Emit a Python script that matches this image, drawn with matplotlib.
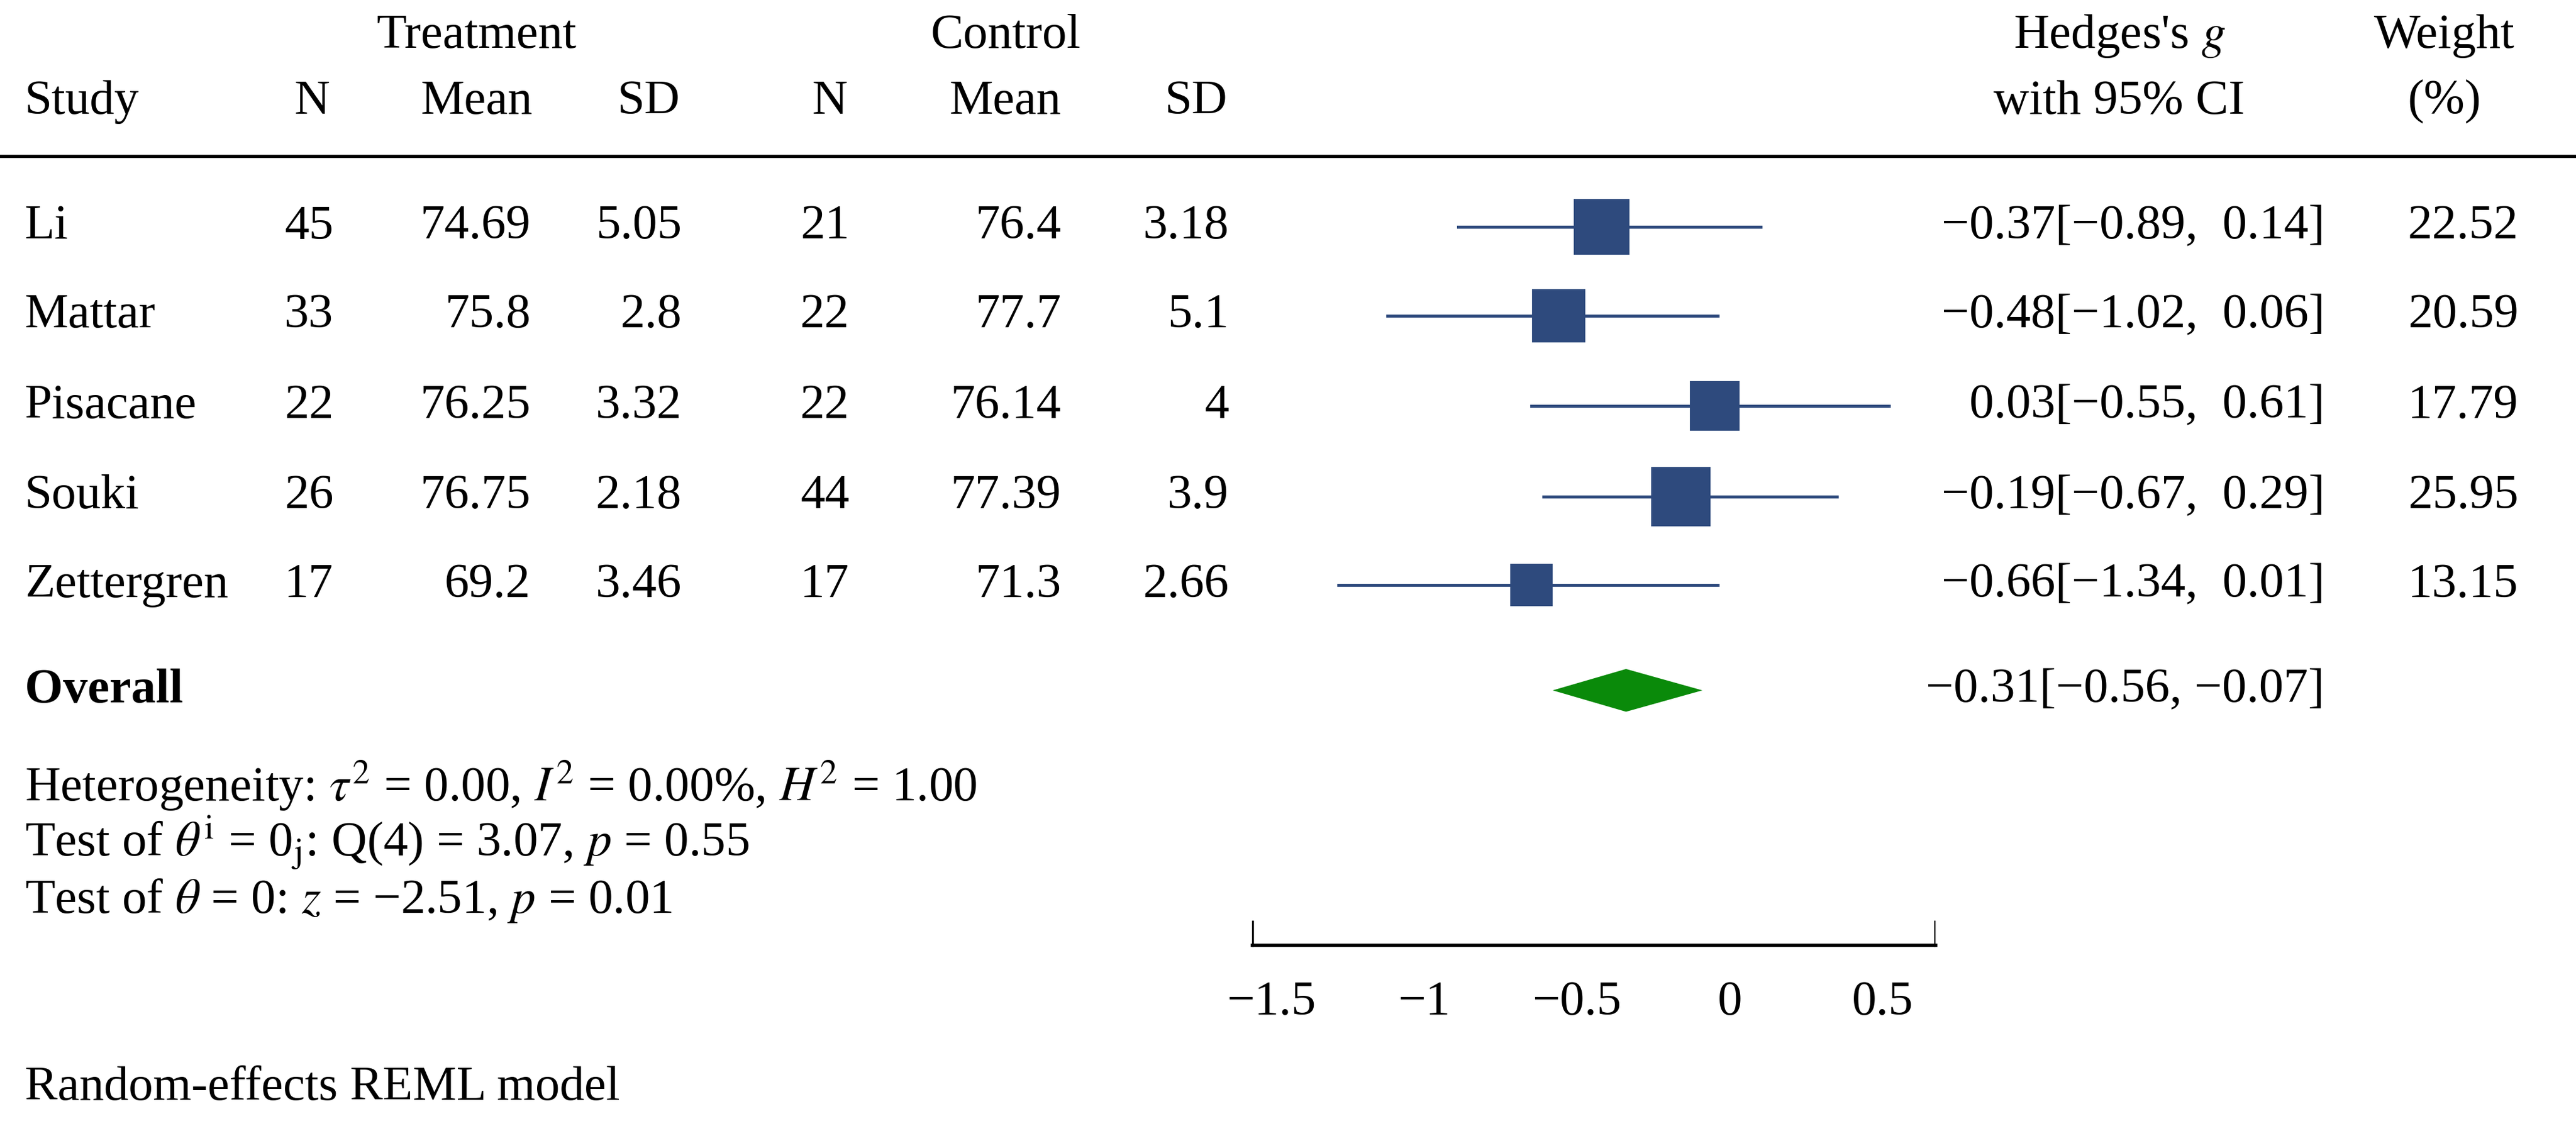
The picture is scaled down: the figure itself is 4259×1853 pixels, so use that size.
import matplotlib
matplotlib.use("Agg")
import matplotlib.pyplot as plt
import numpy as np

plt.rcParams['font.family'] = ['Liberation Serif', 'DejaVu Serif']
plt.rcParams['mathtext.fontset'] = 'stix'

studies = ["Li", "Mattar", "Pisacane", "Souki", "Zettergren"]
t_n = ["45", "33", "22", "26", "17"]
t_mean = ["74.69", "75.8", "76.25", "76.75", "69.2"]
t_sd = ["5.05", "2.8", "3.32", "2.18", "3.46"]
c_n = ["21", "22", "22", "44", "17"]
c_mean = ["76.4", "77.7", "76.14", "77.39", "71.3"]
c_sd = ["3.18", "5.1", "4", "3.9", "2.66"]
es_text = ["\u22120.37[\u22120.89,  0.14]", "\u22120.48[\u22121.02,  0.06]",
           "0.03[\u22120.55,  0.61]", "\u22120.19[\u22120.67,  0.29]",
           "\u22120.66[\u22121.34,  0.01]"]
weights = [22.52, 20.59, 17.79, 25.95, 13.15]
weight_text = ["22.52", "20.59", "17.79", "25.95", "13.15"]
# plotted marker positions (as drawn in the reference)
est = [-0.42, -0.56, -0.05, -0.16, -0.65]
lo = [-0.89, -1.12, -0.65, -0.61, -1.28]
hi = [0.10, -0.04, 0.52, 0.35, -0.04]
overall = (-0.58, -0.34, -0.09)
overall_text = "\u22120.31[\u22120.56, \u22120.07]"
xticks = [-1.5, -1, -0.5, 0, 0.5]
xticklabels = ["\u22121.5", "\u22121", "\u22120.5", "0", "0.5"]

W, H = 1568, 682
fig = plt.figure(figsize=(4259/300, 1853/300), dpi=300)
fs = 19.5

def T(x, y, s, ha='left', **kw):
    fig.text(x/W, 1-y/H, s, ha=ha, va='center', fontsize=fs, **kw)

row_y = [138, 192, 247, 302, 356]
T(290, 22, "Treatment", 'center'); T(612, 22, "Control", 'center')
T(15, 62, "Study"); T(190, 62, "N", 'center'); T(290, 62, "Mean", 'center'); T(395, 62, "SD", 'center')
T(505, 62, "N", 'center'); T(612, 62, "Mean", 'center'); T(728, 62, "SD", 'center')
T(1290, 22, "Hedges's $\\mathit{g}$", 'center'); T(1290, 62, "with 95% CI", 'center')
T(1488, 22, "Weight", 'center'); T(1488, 62, "(%)", 'center')

for i, y in enumerate(row_y):
    T(15, y, studies[i])
    T(203, y, t_n[i], 'right'); T(323, y, t_mean[i], 'right'); T(415, y, t_sd[i], 'right')
    T(517, y, c_n[i], 'right'); T(646, y, c_mean[i], 'right'); T(748, y, c_sd[i], 'right')
    T(1415, y, es_text[i], 'right'); T(1533, y, weight_text[i], 'right')
T(15, 420, "Overall", fontweight='bold')
T(1415, 420, overall_text, 'right')
T(15, 478, "Heterogeneity: $\\tau^2$ = 0.00, $I^2$ = 0.00%, $H^2$ = 1.00")
T(15, 513, "Test of $\\theta^{\\mathrm{i}}$ = 0$_{\\mathrm{j}}$: Q(4) = 3.07, $p$ = 0.55")
T(15, 548, "Test of $\\theta$ = 0: $z$ = \u22122.51, $p$ = 0.01")
T(15, 662, "Random-effects REML model")

fig.add_artist(plt.Line2D([0, 1], [1-95/H]*2, color='black', lw=1.3))

ax = fig.add_axes([762/W, 0, 416/W, 1])
ax.patch.set_alpha(0)
x0 = (762-1053)/186; x1 = (1178-1053)/186
ax.set_xlim(x0, x1); ax.set_ylim(H, 0)
navy = '#2E4A7D'
for i, y in enumerate(row_y):
    ax.plot([lo[i], hi[i]], [y, y], color=navy, lw=1.2)
    ax.plot(est[i], y, marker='s', ms=21*np.sqrt(weights[i]/22.52), color=navy, mec=navy)
d = 13
ax.fill([overall[0], overall[1], overall[2], overall[1]], [420, 420-d, 420, 420+d], color='#0A8A0A', lw=0)
for s in ['top', 'right', 'left']:
    ax.spines[s].set_visible(False)
ax.spines['bottom'].set_position(('data', 575))
ax.spines['bottom'].set_bounds(x0, x1)
ax.spines['bottom'].set_linewidth(1.3)
ax.set_yticks([])
ax.set_xticks(xticks); ax.set_xticklabels(xticklabels, fontsize=fs)
ax.tick_params(axis='x', direction='in', length=0, pad=14)
ax.plot([x0, x0], [575, 575-14], color='black', lw=1.3)
ax.plot([x1, x1], [575, 575-14], color='black', lw=1.3)
fig.savefig("out.png", dpi=300)
